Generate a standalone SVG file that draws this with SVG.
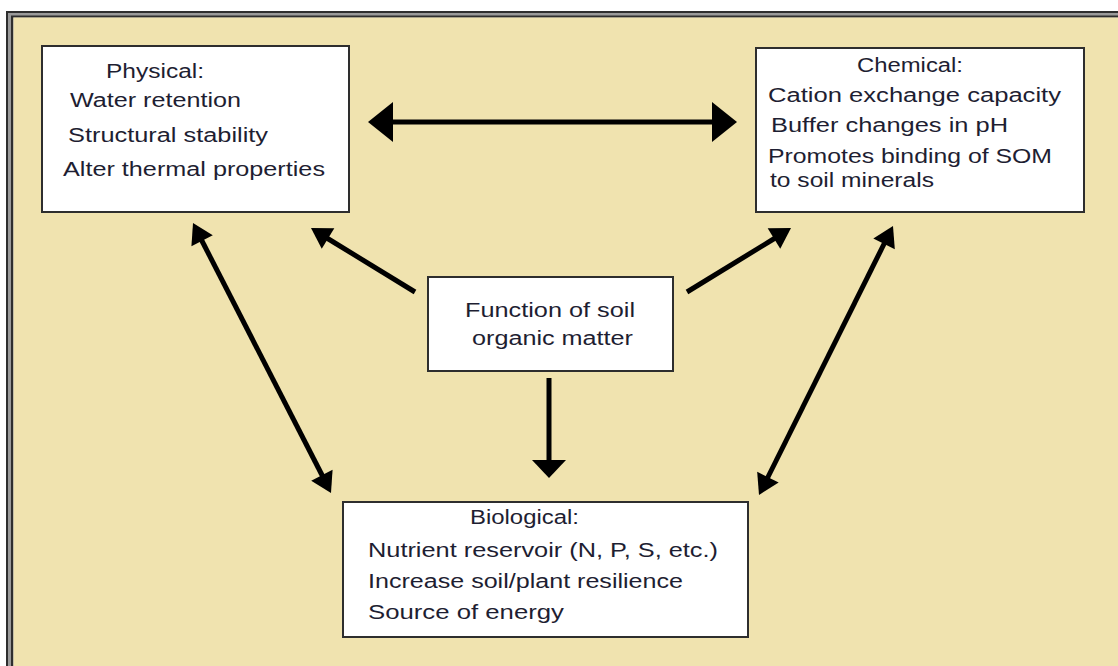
<svg xmlns="http://www.w3.org/2000/svg" xmlns:xlink="http://www.w3.org/1999/xlink" width="1118" height="666" viewBox="0 0 1118 666">
  <style>
    .box { fill: #ffffff; stroke: #2e2e2e; stroke-width: 2; }
    .lbl { font-family: "Liberation Sans", Arial, sans-serif; font-size: 19.5px; fill: #1e1e32; }
    .conn { stroke: #000000; stroke-width: 5; fill: none; }
    .frame { stroke: #2e2e2e; stroke-width: 2; fill: none; }
  </style>
  <defs>
    <!-- arrowheads, tip at origin pointing along +x -->
    <polygon id="headBig" points="0,0 -25,-20 -25,20" fill="#000"/>
    <polygon id="headMid" points="0,0 -20,-12 -20,12" fill="#000"/>
    <polygon id="headDown" points="0,0 -18,-17 -18,17" fill="#000"/>
  </defs>

  <!-- page and double frame -->
  <rect x="0" y="0" width="1118" height="666" fill="#ffffff"/>
  <rect x="6" y="11" width="1112" height="655" fill="#9a9a9a"/>
  <path class="frame" d="M7,666 V12 H1118"/>
  <path class="frame" d="M12,666 V16.5 H1118"/>
  <rect x="13.5" y="17.5" width="1104.5" height="648.5" fill="#f0e3af"/>

  <!-- connectors -->
  <g id="connectors">
    <!-- physical <-> chemical -->
    <line class="conn" x1="390" y1="122" x2="715" y2="122"/>
    <use xlink:href="#headBig" transform="translate(368,122) rotate(180)"/>
    <use xlink:href="#headBig" transform="translate(737,122)"/>

    <!-- centre -> physical -->
    <line class="conn" x1="415" y1="292" x2="326" y2="237.5"/>
    <use xlink:href="#headMid" transform="translate(311,228) rotate(211.6)"/>

    <!-- centre -> chemical -->
    <line class="conn" x1="687" y1="292" x2="776" y2="237.5"/>
    <use xlink:href="#headMid" transform="translate(791,228) rotate(-31.6)"/>

    <!-- centre -> biological -->
    <line class="conn" x1="549" y1="378" x2="549" y2="462"/>
    <use xlink:href="#headDown" transform="translate(549,478) rotate(90)"/>

    <!-- physical <-> biological -->
    <line class="conn" x1="201" y1="239" x2="323" y2="477"/>
    <use xlink:href="#headMid" transform="translate(193,223) rotate(242.9)"/>
    <use xlink:href="#headMid" transform="translate(331,493) rotate(62.9)"/>

    <!-- chemical <-> biological -->
    <line class="conn" x1="885" y1="242" x2="767" y2="479"/>
    <use xlink:href="#headMid" transform="translate(893,226) rotate(-63.5)"/>
    <use xlink:href="#headMid" transform="translate(759,495) rotate(116.5)"/>
  </g>

  <g id="physical">
    <rect class="box" x="42" y="46" width="307" height="166"/>
    <text class="lbl" x="106" y="78" textLength="98" lengthAdjust="spacingAndGlyphs">Physical:</text>
    <text class="lbl" x="70" y="107" textLength="171" lengthAdjust="spacingAndGlyphs">Water retention</text>
    <text class="lbl" x="68" y="142" textLength="200" lengthAdjust="spacingAndGlyphs">Structural stability</text>
    <text class="lbl" x="63" y="176" textLength="262" lengthAdjust="spacingAndGlyphs">Alter thermal properties</text>
  </g>

  <g id="chemical">
    <rect class="box" x="756" y="48" width="328" height="164"/>
    <text class="lbl" x="857" y="72" textLength="106" lengthAdjust="spacingAndGlyphs">Chemical:</text>
    <text class="lbl" x="768" y="102" textLength="293" lengthAdjust="spacingAndGlyphs">Cation exchange capacity</text>
    <text class="lbl" x="771" y="132" textLength="237" lengthAdjust="spacingAndGlyphs">Buffer changes in pH</text>
    <text class="lbl" x="768" y="163" textLength="284" lengthAdjust="spacingAndGlyphs">Promotes binding of SOM</text>
    <text class="lbl" x="770" y="187" textLength="164" lengthAdjust="spacingAndGlyphs">to soil minerals</text>
  </g>

  <g id="function">
    <rect class="box" x="428" y="277" width="245" height="94"/>
    <text class="lbl" x="465" y="317" textLength="170" lengthAdjust="spacingAndGlyphs">Function of soil</text>
    <text class="lbl" x="472" y="345" textLength="161" lengthAdjust="spacingAndGlyphs">organic matter</text>
  </g>

  <g id="biological">
    <rect class="box" x="343" y="502" width="405" height="135"/>
    <text class="lbl" x="470" y="524" textLength="109" lengthAdjust="spacingAndGlyphs">Biological:</text>
    <text class="lbl" x="368" y="557" textLength="350" lengthAdjust="spacingAndGlyphs">Nutrient reservoir (N, P, S, etc.)</text>
    <text class="lbl" x="368" y="588" textLength="315" lengthAdjust="spacingAndGlyphs">Increase soil/plant resilience</text>
    <text class="lbl" x="368" y="619" textLength="196" lengthAdjust="spacingAndGlyphs">Source of energy</text>
  </g>
</svg>
